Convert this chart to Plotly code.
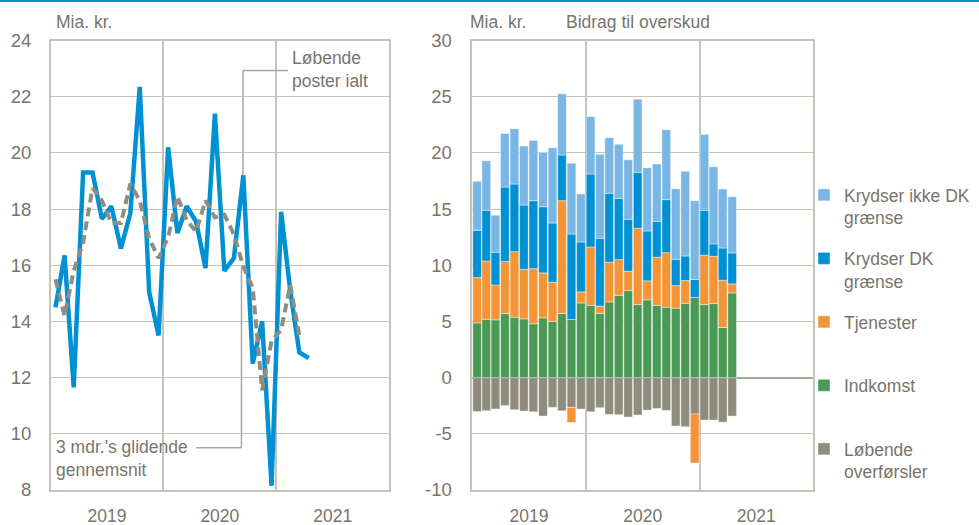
import plotly.graph_objects as go

# ---------------- data ----------------
months = ["2019-01", "2019-02", "2019-03", "2019-04", "2019-05", "2019-06",
          "2019-07", "2019-08", "2019-09", "2019-10", "2019-11", "2019-12",
          "2020-01", "2020-02", "2020-03", "2020-04", "2020-05", "2020-06",
          "2020-07", "2020-08", "2020-09", "2020-10", "2020-11", "2020-12",
          "2021-01", "2021-02", "2021-03", "2021-04"]

# Left panel: current account total (Løbende poster ialt), bn DKK
loebende_poster = [14.5, 16.35, 11.65, 19.3, 19.3, 17.65, 18.1, 16.6, 17.85, 22.35, 15.05, 13.5,
                   20.2, 17.15, 18.1, 17.55, 15.9, 21.4, 15.8, 16.25, 19.2, 12.5, 14.0, 8.15,
                   17.9, 15.1, 12.9, 12.7]
# 3-month moving average (dashed), Jan 2019 - Mar 2021
glidende = [15.5, 14.2, 15.8, 16.8, 18.75, 18.3, 17.5, 17.5, 18.9, 18.3, 16.95, 16.25,
            17.0, 18.45, 17.6, 17.2, 18.3, 17.7, 17.8, 17.1, 15.95, 15.2, 11.55, 13.3,
            13.7, 15.3, 13.5]

# Right panel: contributions to surplus, bn DKK
indkomst = [4.87, 5.20, 5.14, 5.70, 5.38, 5.23, 4.79, 5.32, 4.99, 5.70, 5.17, 6.65,
            6.44, 5.70, 6.74, 7.33, 7.75, 6.50, 6.92, 6.44, 6.27, 6.18, 6.62, 7.13,
            6.50, 6.59, 4.46, 7.54]
tjenester = [4.03, 5.18, 3.11, 4.63, 5.83, 4.41, 4.91, 4.00, 3.50, 10.05, -1.34, 0.98,
             5.19, 0.66, 3.53, 3.17, 1.72, 6.79, 1.69, 4.27, 4.85, 2.01, 2.02, -4.36,
             4.39, 4.21, 4.21, 0.80]
krydser_dk = [4.21, 4.51, 2.91, 6.63, 6.02, 5.72, 6.05, 5.89, 5.27, 4.06, 7.61, 4.44,
              6.49, 6.04, 6.13, 5.45, 4.62, 4.98, 4.44, 3.20, 4.72, 2.34, 2.19, 1.60,
              4.00, 1.10, 2.87, 2.76]
krydser_ikke_dk = [4.36, 4.41, 3.28, 4.77, 4.92, 5.25, 5.36, 4.83, 6.70, 5.45, 6.29, 4.27,
                   5.12, 7.47, 4.95, 4.81, 5.30, 6.51, 5.63, 5.10, 6.22, 6.28, 7.53, 7.02,
                   6.75, 6.87, 5.24, 5.00]
overfoersler = [-3.01, -2.95, -2.80, -2.47, -2.86, -2.98, -3.04, -3.42, -2.65, -2.95, -2.65, -2.80,
                -3.04, -2.68, -3.27, -3.30, -3.51, -3.33, -2.89, -2.74, -2.92, -4.31, -4.37, -3.24,
                -3.78, -3.78, -3.96, -3.42]

# right y-axis tick values / labels (hyphen minus as in the original)
right_tickvals = [-10, -5, 0, 5, 10, 15, 20, 25, 30]
right_ticktext = ["-10", "-5", "0", "5", "10", "15", "20", "25", "30"]

# ---------------- style ----------------
W, H = 979, 525
FONT = "Liberation Sans, Arial, sans-serif"
TXT = "#77756a"
GRID = "#c6c4b9"
BLUE = "#0091d5"
LBLUE = "#7ab6e3"
ORANGE = "#f39436"
GREEN = "#4a9a56"
GRAY = "#8f8c7e"
FS_Y = 18.5
FS_X = 17.5
FS_T = 17.5

def px(x):
    return x / W

def py(y):
    return 1 - y / H

ydom = [py(490), py(40.5)]

fig = go.Figure()

# left panel
fig.add_trace(go.Scatter(x=months, y=loebende_poster, xperiod="M1", xperiodalignment="middle",
                         mode="lines", line=dict(color=BLUE, width=4.5),
                         xaxis="x", yaxis="y", showlegend=False, name="Løbende poster ialt"))
fig.add_trace(go.Scatter(x=months[:len(glidende)], y=glidende, xperiod="M1", xperiodalignment="middle",
                         mode="lines", line=dict(color="#918e81", width=4, dash="9px,5px"),
                         xaxis="x", yaxis="y", showlegend=False, name="3 mdr.'s glidende gennemsnit"))

# right panel (stack order: first trace nearest zero); rank = legend position
bar_series = [
    ("Løbende<br>overførsler", overfoersler, GRAY, 5),
    ("Indkomst<br>\u00a0", indkomst, GREEN, 4),
    ("Tjenester<br>\u00a0", tjenester, ORANGE, 3),
    ("Krydser DK<br>grænse", krydser_dk, BLUE, 2),
    ("Krydser ikke DK<br>grænse", krydser_ikke_dk, LBLUE, 1),
]
for i, (name, vals, col, rank) in enumerate(bar_series):
    fig.add_trace(go.Bar(x=months, y=vals, xperiod="M1", xperiodalignment="middle",
                         name=name, legendgroup=f"g{i}", legendrank=rank,
                         marker=dict(color=col, line=dict(width=0.6, color="rgba(255,255,255,0.7)")),
                         xaxis="x2", yaxis="y2"))

common_x = dict(type="date", range=["2019-01-01", "2022-01-01"], tick0="2019-01-01", dtick="M12",
                tickformat="%Y", ticklabelmode="period", showgrid=True, gridcolor=GRID, gridwidth=1.5,
                showline=True, linecolor=GRID, linewidth=1.5, mirror=True, ticks="",
                tickfont=dict(family=FONT, size=FS_X, color=TXT), ticklabelstandoff=9,
                zeroline=False, automargin=False)
common_y = dict(showgrid=True, gridcolor=GRID, gridwidth=1.3, showline=True, linecolor=GRID,
                linewidth=1.5, mirror=True, ticks="", automargin=False,
                tickfont=dict(family=FONT, size=FS_Y, color=TXT))

fig.update_layout(
    width=W, height=H, margin=dict(l=0, r=0, t=0, b=0, autoexpand=False),
    paper_bgcolor="white", plot_bgcolor="white",
    font=dict(family=FONT, size=FS_T, color=TXT),
    barmode="relative", bargap=0.05,
    xaxis=dict(domain=[px(50.7), px(389)], anchor="y", **common_x),
    yaxis=dict(domain=ydom, anchor="x", range=[8, 24], dtick=2, zeroline=False,
               ticklabelstandoff=14, **common_y),
    xaxis2=dict(domain=[px(472.3), px(813)], anchor="y2", **common_x),
    yaxis2=dict(domain=ydom, anchor="x2", range=[-10, 30], tickmode="array",
                tickvals=right_tickvals, ticktext=right_ticktext, zeroline=True,
                zerolinecolor="#a8a699", zerolinewidth=2, ticklabelstandoff=15, **common_y),
    legend=dict(x=px(804), y=py(177), xanchor="left", yanchor="top", traceorder="grouped",
                tracegroupgap=15, valign="top", font=dict(family=FONT, size=FS_T, color=TXT),
                bgcolor="rgba(0,0,0,0)", itemclick=False, itemdoubleclick=False),
)

LEAD = "#a9a79b"
shapes = [
    # top rule
    dict(type="line", xref="paper", yref="paper", x0=0, x1=1, y0=py(1), y1=py(1),
         line=dict(color=BLUE, width=2)),
    # leader: Løbende poster ialt
    dict(type="line", xref="x", yref="y", x0="2020-09-15", x1="2020-09-15", y0=19.2, y1=22.93,
         line=dict(color=LEAD, width=1.5)),
    dict(type="line", xref="x", yref="y", x0="2020-09-15", x1="2021-02-08", y0=22.93, y1=22.93,
         line=dict(color=LEAD, width=1.5)),
    # leader: 3 mdr.'s glidende gennemsnit
    dict(type="line", xref="x", yref="y", x0="2020-04-17", x1="2020-09-10", y0=9.5, y1=9.5,
         line=dict(color=LEAD, width=1.5)),
    dict(type="line", xref="x", yref="y", x0="2020-09-10", x1="2020-09-10", y0=9.5, y1=15.95,
         line=dict(color=LEAD, width=1.5)),
]
fig.update_layout(shapes=shapes)

ann = dict(xref="paper", yref="paper", showarrow=False, xanchor="left", yanchor="middle",
           align="left", font=dict(family=FONT, size=FS_T, color=TXT))
fig.update_layout(annotations=[
    dict(text="Mia. kr.", x=px(54), y=py(22), **ann),
    dict(text="Mia. kr.", x=px(468), y=py(22), **ann),
    dict(text="Bidrag til overskud", x=px(564), y=py(22), **ann),
    dict(text="Løbende<br>poster ialt", x=px(290), y=py(70), **ann),
    dict(text="3 mdr.'s glidende<br>gennemsnit", x=px(54), y=py(458), **ann),
])

fig.write_html("out.html", config={"displayModeBar": False},
               post_script="document.body.style.margin='0';document.body.style.overflow='hidden';")
